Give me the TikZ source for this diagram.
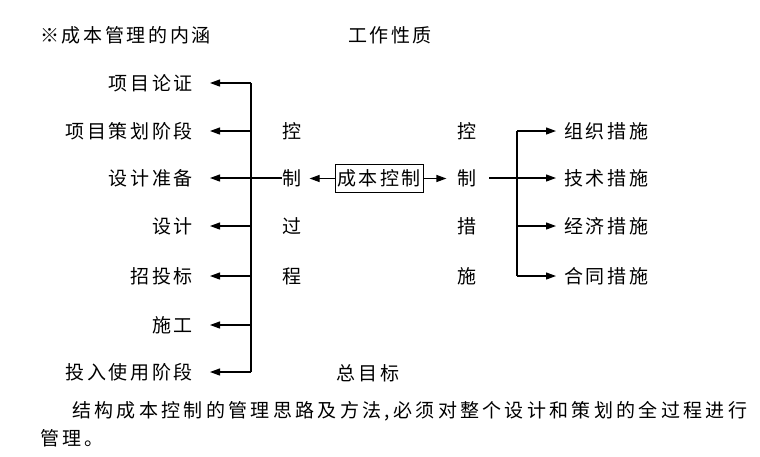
\documentclass[tikz,border=0pt]{standalone}
\usepackage{fontspec}
\newfontfamily\cjk[LetterSpace=14]{Noto Sans CJK SC}
\newfontfamily\cjkpar[LetterSpace=17.5]{Noto Sans CJK SC}
\usetikzlibrary{arrows.meta}
\begin{document}
\begin{tikzpicture}[x=1pt,y=-1pt,
  txt/.style={inner sep=0pt,font=\cjk\fontsize{19}{22}\selectfont},
  partxt/.style={inner sep=0pt,font=\cjkpar\fontsize{19}{22}\selectfont},
  ln/.style={line width=1.2pt},
  arr/.style={ln,-{Triangle[length=10pt,width=7pt]}}]
\useasboundingbox (0,0) rectangle (760,456);
\node[txt,anchor=west] (title) at (40,35) {※成本管理的内涵};
\node[txt] (nature) at (390,35) {工作性质};
% left labels
\node[txt,anchor=east] (l1) at (193,83) {项目论证};
\node[txt,anchor=east] (l2) at (193,131) {项目策划阶段};
\node[txt,anchor=east] (l3) at (193,178) {设计准备};
\node[txt,anchor=east] (l4) at (193,226) {设计};
\node[txt,anchor=east] (l5) at (193,276) {招投标};
\node[txt,anchor=east] (l6) at (193,325) {施工};
\node[txt,anchor=east] (l7) at (193,372) {投入使用阶段};
\coordinate (vt) at (251,83);
\coordinate (vb) at (251,372);
\draw[ln] (vt) -- (vb);
\foreach \i/\y in {1/83,2/131,3/178,4/226,5/276,6/325,7/372}{
  \coordinate (b\i) at (251,\y);
  \coordinate (t\i) at (210,\y);
  \draw[arr] (b\i) -- (t\i);
}
% control process column
\node[txt] (k1) at (292,131) {控};
\node[txt] (k2) at (292,178) {制};
\node[txt] (k3) at (292,226) {过};
\node[txt] (k4) at (292,276) {程};
\draw[ln] (b3) -- (k2.west);
% box
\node[txt,draw,line width=0.8pt,minimum width=88pt,minimum height=28pt] (box) at (379,178.5) {成本控制};
\draw[arr] (box.west) -- ++(-25,0) coordinate (kt);
% measures column
\node[txt] (m1) at (467,131) {控};
\node[txt] (m2) at (467,178) {制};
\node[txt] (m3) at (467,226) {措};
\node[txt] (m4) at (467,276) {施};
\draw[arr] (box.east) -- ++(23,0) coordinate (mt);
\coordinate (r1) at (517,131);
\coordinate (r2) at (517,178);
\coordinate (r3) at (517,226);
\coordinate (r4) at (517,276);
\draw[ln] (489,178) coordinate (rs) -- (r2);
\draw[ln] (r1) -- (r4);
\node[txt,anchor=west] (n1) at (564,131) {组织措施};
\node[txt,anchor=west] (n2) at (564,178) {技术措施};
\node[txt,anchor=west] (n3) at (564,226) {经济措施};
\node[txt,anchor=west] (n4) at (564,276) {合同措施};
\foreach \i in {1,2,3,4}{ \draw[arr] (r\i) -- (556,0 |- r\i); }
\node[txt] (goal) at (368,373) {总目标};
% paragraph
\node[partxt,anchor=west] (p1) at (72,411) {结构成本控制的管理思路及方法,必须对整个设计和策划的全过程进行};
\node[partxt,anchor=west] (p2) at (40,438) {管理。};
\end{tikzpicture}
\end{document}
